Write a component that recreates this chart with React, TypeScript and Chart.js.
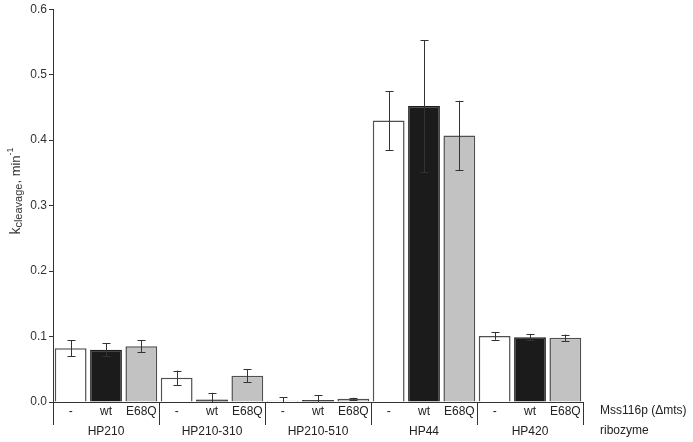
import React, { useEffect, useRef } from "react";
import { Chart, registerables } from "chart.js";

Chart.register(...registerables);

const groups = ["HP210", "HP210-310", "HP210-510", "HP44", "HP420"];
const conditions = ["-", "wt", "E68Q"];
const values = [
  0.082, 0.080, 0.085,
  0.037, 0.004, 0.040,
  0.002, 0.003, 0.005,
  0.430, 0.452, 0.407,
  0.101, 0.099, 0.098,
];
const errors = [
  0.012, 0.010, 0.009,
  0.011, 0.010, 0.010,
  0.005, 0.007, 0.0015,
  0.045, 0.101, 0.053,
  0.006, 0.005, 0.005,
];
const yTicks = [0, 0.1, 0.2, 0.3, 0.4, 0.5, 0.6];

const FONT = "'Liberation Sans', Arial, sans-serif";
const fills = ["#ffffff", "#1b1b1b", "#c2c2c2"];
const borders = ["#505050", "#1b1b1b", "#505050"];

const labels15 = groups.flatMap(() => conditions);

const extrasPlugin = {
  id: "extras",
  afterDatasetsDraw(chart: any) {
    const ctx = chart.ctx;
    const y = chart.scales.y;
    const meta = chart.getDatasetMeta(0);
    const els = meta.data;
    ctx.save();
    ctx.strokeStyle = "#333";
    ctx.lineWidth = 1;
    els.forEach((el: any, i: number) => {
      const v = values[i];
      const e = errors[i];
      const top = y.getPixelForValue(v + e);
      const bot = y.getPixelForValue(Math.max(v - e, 0));
      const x = Math.round(el.x) + 0.5;
      const cap = 4;
      ctx.beginPath();
      ctx.moveTo(x, top);
      ctx.lineTo(x, bot);
      ctx.moveTo(x - cap, Math.round(top) + 0.5);
      ctx.lineTo(x + cap, Math.round(top) + 0.5);
      if (v - e > 0) {
        ctx.moveTo(x - cap, Math.round(bot) + 0.5);
        ctx.lineTo(x + cap, Math.round(bot) + 0.5);
      }
      ctx.stroke();
    });
    ctx.restore();
  },
  afterDraw(chart: any) {
    const ctx = chart.ctx;
    const meta = chart.getDatasetMeta(0);
    const els = meta.data;
    const area = chart.chartArea;
    const slot = els[1].x - els[0].x;
    ctx.save();
    ctx.strokeStyle = "#333";
    ctx.lineWidth = 1;
    ctx.beginPath();
    const ax = Math.round(area.left) + 0.5;
    ctx.moveTo(ax, area.bottom);
    ctx.lineTo(ax, area.bottom + 23);
    for (let g = 0; g < groups.length; g++) {
      const last = els[g * 3 + 2];
      const sx = Math.round(last.x + slot / 2) + 0.5;
      ctx.moveTo(sx, area.bottom);
      ctx.lineTo(sx, area.bottom + 23);
    }
    ctx.stroke();

    ctx.fillStyle = "#222";
    ctx.font = `12px ${FONT}`;
    ctx.textAlign = "left";
    ctx.textBaseline = "middle";
    ctx.fillText("Mss116p (\u0394mts)", 600, 411);
    ctx.fillText("ribozyme", 600, 431);

    ctx.fillStyle = "#333";
    ctx.translate(16, 191);
    ctx.rotate(-Math.PI / 2);
    const parts = [
      { t: "k", size: 14, dy: 0 },
      { t: "cleavage", size: 11, dy: 3 },
      { t: ", min", size: 13, dy: 0 },
      { t: "-1", size: 9, dy: -5 },
    ];
    let total = 0;
    parts.forEach((p) => {
      ctx.font = `${p.size}px ${FONT}`;
      total += ctx.measureText(p.t).width;
    });
    let cx = -total / 2;
    ctx.textAlign = "left";
    ctx.textBaseline = "middle";
    parts.forEach((p) => {
      ctx.font = `${p.size}px ${FONT}`;
      ctx.fillText(p.t, cx, p.dy);
      cx += ctx.measureText(p.t).width;
    });
    ctx.restore();
  },
};

export default function App() {
  const ref = useRef<HTMLCanvasElement>(null);
  useEffect(() => {
    if (!ref.current) return;
    const chart = new Chart(ref.current, {
      type: "bar",
      data: {
        labels: labels15,
        datasets: [
          {
            data: values,
            backgroundColor: values.map((_, i) => fills[i % 3]),
            borderColor: values.map((_, i) => borders[i % 3]),
            borderWidth: 1.5,
            borderSkipped: "bottom",
            barPercentage: 0.9,
            categoryPercentage: 1,
          },
        ],
      },
      options: {
        animation: false,
        responsive: true,
        maintainAspectRatio: false,
        layout: { padding: { top: 7, right: 110, bottom: 0, left: 0 } },
        plugins: {
          legend: { display: false },
          tooltip: { enabled: false },
        },
        scales: {
          x: {
            type: "category",
            offset: true,
            grid: { display: false, drawTicks: false, tickLength: 0 },
            border: { display: true, color: "#333", width: 1 },
            ticks: {
              color: "#222",
              font: { family: FONT, size: 12 },
              padding: 2,
              maxRotation: 0,
              autoSkip: false,
            },
            afterFit: (axis: any) => {
              axis.height = 20;
            },
          },
          x2: {
            type: "category",
            labels: groups,
            position: "bottom",
            offset: true,
            grid: { display: false, drawTicks: false, tickLength: 0 },
            border: { display: false },
            ticks: {
              color: "#222",
              font: { family: FONT, size: 12 },
              padding: 2,
              maxRotation: 0,
              autoSkip: false,
            },
            afterFit: (axis: any) => {
              axis.height = 20;
            },
          },
          y: {
            min: 0,
            max: 0.6,
            afterBuildTicks: (axis: any) => {
              axis.ticks = yTicks.map((v) => ({ value: v }));
            },
            grid: {
              drawOnChartArea: false,
              drawTicks: true,
              tickLength: 4,
              color: "#333",
            },
            border: { display: true, color: "#333", width: 1 },
            ticks: {
              color: "#333",
              font: { family: FONT, size: 12 },
              padding: 2,
              callback: (v: any) => Number(v).toFixed(1),
            },
            afterFit: (axis: any) => {
              axis.width = 53;
            },
          },
        },
      },
      plugins: [extrasPlugin],
    });
    return () => chart.destroy();
  }, []);
  return (
    <div style={{ position: "absolute", left: 0, top: 0, width: 693, height: 442 }}>
      <canvas ref={ref} />
    </div>
  );
}
